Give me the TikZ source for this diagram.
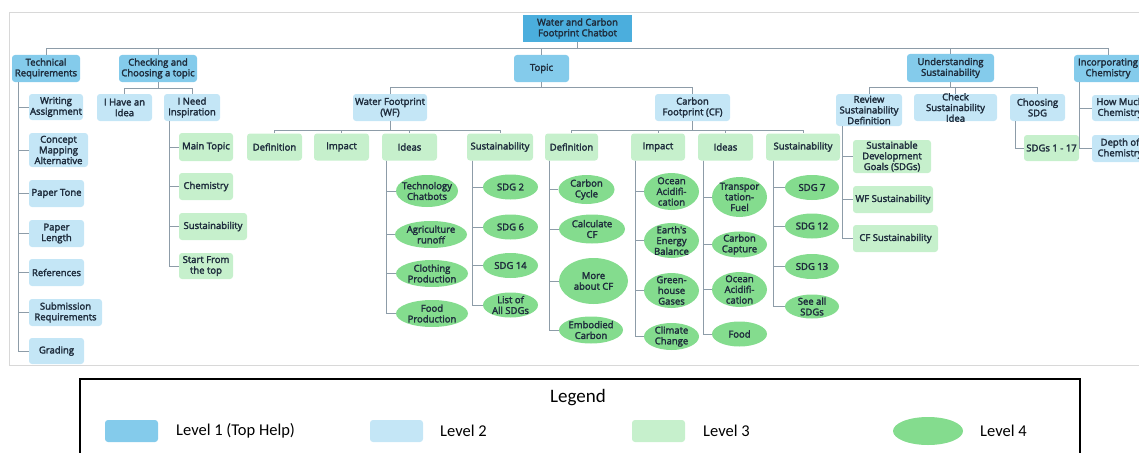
\documentclass[tikz,border=0pt]{standalone}
\usepackage{fontspec}
\setmainfont{Open Sans}
\newfontfamily\boxfont{Open Sans}[FakeBold=2.5]
\newfontfamily\legfont{Carlito}
\usetikzlibrary{shapes.geometric}
\definecolor{rootc}{HTML}{4BAEDD}
\definecolor{lone}{HTML}{84CBEB}
\definecolor{ltwo}{HTML}{C4E6F6}
\definecolor{lthree}{HTML}{C6F0CC}
\definecolor{lfour}{HTML}{84DC8E}
\definecolor{linec}{HTML}{8D9CA8}
\definecolor{txt}{HTML}{1F2D3D}
\definecolor{framec}{HTML}{D8D8D8}
\newcommand\bx[6]{\node[#1={#2}{#3}] (#4) at (#5) {}; \node[base] at (#4) {#6};}
\begin{document}
\begin{tikzpicture}[x=1pt,y=-1pt,
 base/.style={inner sep=0pt, align=center, text=txt, font=\boxfont\fontsize{9.5}{10.7}\selectfont},
 shp/.style 2 args={inner sep=0pt, minimum width=#1pt, minimum height=#2pt},
 rootbox/.style 2 args={shp={#1}{#2}, fill=rootc},
 lvone/.style 2 args={shp={#1}{#2}, fill=lone, rounded corners=3pt},
 lvtwo/.style 2 args={shp={#1}{#2}, fill=ltwo, rounded corners=3pt},
 lvthree/.style 2 args={shp={#1}{#2}, fill=lthree, rounded corners=3pt},
 lvfour/.style 2 args={shp={#1}{#2}, fill=lfour, ellipse},
 conn/.style={draw=linec, line width=0.9pt},
 legtext/.style={inner sep=0pt, text=black, font=\legfont\fontsize{16.5}{18}\selectfont}
]
\useasboundingbox (0,0) rectangle (1139,452);
\clip (0,0) rectangle (1139,452);
% frame
\draw[framec, line width=0.8pt] (1145,12) -- (9,12) -- (9,365) -- (1145,365);
% root and level 1
\bx{rootbox}{109}{27}{root}{577.5,28.5}{Water and Carbon\\Footprint Chatbot}
\bx{lvone}{68}{27}{tech}{46,68.5}{Technical\\Requirements}
\bx{lvone}{78}{27}{check}{158,68.5}{Checking and\\Choosing a topic}
\bx{lvone}{55}{27}{topic}{541.5,68.5}{Topic}
\bx{lvone}{87}{28}{under}{950.5,68}{Understanding\\Sustainability}
\bx{lvone}{68}{27}{incorp}{1108,68.5}{Incorporating\\Chemistry}
% level 2
\bx{lvtwo}{54}{26}{wa}{56,107}{Writing\\Assignment}
\bx{lvtwo}{59}{34}{cma}{58.5,150}{Concept\\Mapping\\Alternative}
\bx{lvtwo}{55}{27}{pt}{56.5,193.5}{Paper Tone}
\bx{lvtwo}{55}{27}{pl}{56.5,233.5}{Paper\\Length}
\bx{lvtwo}{55}{27}{ref}{56.5,272.5}{References}
\bx{lvtwo}{73}{27}{sub}{65.5,312.5}{Submission\\Requirements}
\bx{lvtwo}{55}{26}{grad}{56.5,351}{Grading}
\bx{lvtwo}{55}{27}{idea}{124.5,107.5}{I Have an\\Idea}
\bx{lvtwo}{56}{27}{insp}{192,107.5}{I Need\\Inspiration}
\bx{lvtwo}{74}{27}{wf}{390,107.5}{Water Footprint\\(WF)}
\bx{lvtwo}{75}{27}{cf}{692.5,107.5}{Carbon\\Footprint (CF)}
\bx{lvtwo}{66}{32}{rsd}{869,110}{Review\\Sustainability\\Definition}
\bx{lvtwo}{83}{27}{csi}{955.5,107.5}{Check\\Sustainability\\Idea}
\bx{lvtwo}{55}{27}{csdg}{1037.5,107.5}{Choosing\\SDG}
\bx{lvtwo}{56}{26}{hmc}{1120,108}{How Much\\Chemistry}
\bx{lvtwo}{56}{27}{doc}{1120,148.5}{Depth of\\Chemistry}
% level 3
\bx{lvthree}{54}{28}{mt}{206,147}{Main Topic}
\bx{lvthree}{54}{27}{chem}{206,186.5}{Chemistry}
\bx{lvthree}{68}{27}{sus}{213,226.5}{Sustainability}
\bx{lvthree}{54}{26}{sft}{206,266}{Start From\\the top}
\bx{lvthree}{55}{27}{wdef}{274.5,147}{Definition}
\bx{lvthree}{55}{27}{wimp}{341.5,147}{Impact}
\bx{lvthree}{55}{27}{wide}{409.5,147}{Ideas}
\bx{lvthree}{66}{27}{wsus}{500,147}{Sustainability}
\bx{lvthree}{53}{27}{cdef}{571.5,147}{Definition}
\bx{lvthree}{54}{27}{cimp}{658,147}{Impact}
\bx{lvthree}{55}{27}{cide}{725.5,147}{Ideas}
\bx{lvthree}{74}{27}{csus}{803,147}{Sustainability}
\bx{lvthree}{78}{33}{sdgs}{892,156.5}{Sustainable\\Development\\Goals (SDGs)}
\bx{lvthree}{80}{27}{wfs}{893,199.5}{WF Sustainability}
\bx{lvthree}{85}{27}{cfs}{895.5,238.5}{CF Sustainability}
\bx{lvthree}{55}{26}{sot}{1051.5,148}{SDGs 1 - 17}
% level 4
\bx{lvfour}{62}{32}{tc}{427,191}{Technology\\Chatbots}
\bx{lvfour}{72}{27}{ar}{431,234.5}{Agriculture\\runoff}
\bx{lvfour}{72}{27}{cp}{432,273.5}{Clothing\\Production}
\bx{lvfour}{72}{27}{fp}{432,313.5}{Food\\Production}
\bx{lvfour}{55}{25}{stwo}{510.5,187}{SDG 2}
\bx{lvfour}{55}{25}{ssix}{510.5,227}{SDG 6}
\bx{lvfour}{55}{25}{sfourteen}{510.5,265.5}{SDG 14}
\bx{lvfour}{55}{25}{las}{510.5,305}{List of\\All SDGs}
\bx{lvfour}{56}{29}{cc}{586.5,189.5}{Carbon\\Cycle}
\bx{lvfour}{66}{29}{ccf}{592,229}{Calculate\\CF}
\bx{lvfour}{69}{46}{mac}{593.5,281}{More\\about CF}
\bx{lvfour}{64}{27}{ec}{591,330}{Embodied\\Carbon}
\bx{lvfour}{55}{37}{oaone}{671.5,191.5}{Ocean\\Acidifi-\\cation}
\bx{lvfour}{55}{35}{eeb}{671.5,240.5}{Earth's\\Energy\\Balance}
\bx{lvfour}{55}{35}{ghg}{671.5,290.5}{Green-\\house\\Gases}
\bx{lvfour}{55}{27}{clc}{671.5,336.5}{Climate\\Change}
\bx{lvfour}{55}{40}{tf}{739.5,197}{Transpor\\tation-\\Fuel}
\bx{lvfour}{55}{26}{ccap}{739.5,244.5}{Carbon\\Capture}
\bx{lvfour}{55}{35}{oatwo}{739.5,289.5}{Ocean\\Acidifi-\\cation}
\bx{lvfour}{55}{25}{food}{739.5,334}{Food}
\bx{lvfour}{54}{25}{sseven}{812,187.5}{SDG 7}
\bx{lvfour}{54}{25}{stwelve}{812,226}{SDG 12}
\bx{lvfour}{54}{25}{sthirteen}{812,266.5}{SDG 13}
\bx{lvfour}{54}{24}{sas}{812,306.5}{See all\\SDGs}
% connectors: buses
\foreach \c in {tech,check,topic,under,incorp} \draw[conn] (root.south) -- ++(0,6) -| (\c.north);
\foreach \c in {idea,insp} \draw[conn] (check.south) -- ++(0,6) -| (\c.north);
\foreach \c in {wf,cf} \draw[conn] (topic.south) -- ++(0,5) -| (\c.north);
\foreach \c in {wdef,wimp,wide,wsus} \draw[conn] (wf.south) -- ++(0,9) -| (\c.north);
\foreach \c in {cdef,cimp,cide,csus} \draw[conn] (cf.south) -- ++(0,9) -| (\c.north);
\foreach \c in {rsd,csi,csdg} \draw[conn] (under.south) -- ++(0,5) -| (\c.north);
% connectors: spines
\foreach \c in {wa,cma,pt,pl,ref,sub,grad} \draw[conn] ([xshift=7pt]tech.south west) |- (\c.west);
\foreach \c in {mt,chem,sus,sft} \draw[conn] ([xshift=6pt]insp.south west) |- (\c.west);
\foreach \c in {tc,ar,cp,fp} \draw[conn] ([xshift=5pt]wide.south west) |- (\c.west);
\foreach \c in {stwo,ssix,sfourteen,las} \draw[conn] ([xshift=6pt]wsus.south west) |- (\c.west);
\foreach \c in {cc,ccf,mac,ec} \draw[conn] ([xshift=5pt]cdef.south west) |- (\c.west);
\foreach \c in {oaone,eeb,ghg,clc} \draw[conn] ([xshift=5pt]cimp.south west) |- (\c.west);
\foreach \c in {tf,ccap,oatwo,food} \draw[conn] ([xshift=6pt]cide.south west) |- (\c.west);
\foreach \c in {sseven,stwelve,sthirteen,sas} \draw[conn] ([xshift=8pt]csus.south west) |- (\c.west);
\foreach \c in {sdgs,wfs,cfs} \draw[conn] ([xshift=7pt]rsd.south west) |- (\c.west);
\draw[conn] ([xshift=6pt]csdg.south west) |- (sot.west);
\foreach \c in {hmc,doc} \draw[conn] ([xshift=6pt]incorp.south west) |- (\c.west);
% legend
\draw[black, line width=1.3pt] (80,460) -- (80,379) -- (1080,379) -- (1080,460);
\node[legtext, font=\legfont\fontsize{19}{21}\selectfont] (legtitle) at (578,398) {Legend};
\node[shp={53}{22}, fill=lone, rounded corners=3pt] (sw1) at (131.5,431) {};
\node[legtext, anchor=west] (lt1) at (176,431) {Level 1 (Top Help)};
\node[shp={53}{22}, fill=ltwo, rounded corners=3pt] (sw2) at (396.5,431) {};
\node[legtext, anchor=west] (lt2) at (440,431) {Level 2};
\node[shp={53}{22}, fill=lthree, rounded corners=3pt] (sw3) at (658.5,431) {};
\node[legtext, anchor=west] (lt3) at (703,431) {Level 3};
\node[shp={70}{28}, fill=lfour, ellipse] (sw4) at (928,431) {};
\node[legtext, anchor=west] (lt4) at (980,431) {Level 4};
\end{tikzpicture}
\end{document}
